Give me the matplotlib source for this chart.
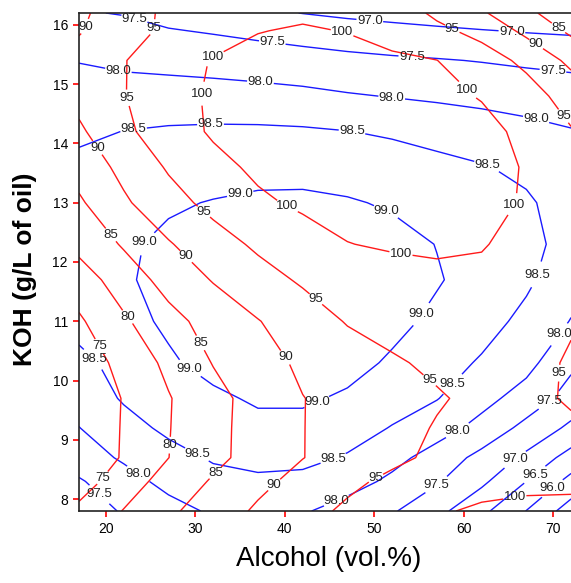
import matplotlib
matplotlib.use('Agg')
import matplotlib.pyplot as plt
import numpy as np

plt.rcParams['font.family'] = ['Liberation Sans', 'DejaVu Sans']

# grid: alcohol (vol.%) columns, KOH (g/L) rows
alcohol = [17, 22, 27, 32, 37, 42, 47, 52, 57, 62, 67, 72]
koh = [7.8, 8.3, 8.7, 9.2, 9.7, 10.3, 11.0, 11.7, 12.3, 13.0, 13.6, 14.2, 14.8, 15.4, 15.9, 16.2]

# red contours (yield %), one row per koh value
yield_pct = [
    [76.1, 80.2, 84.1, 87.5, 90.7, 93.4, 95.8, 97.6, 99.4, 100.8, 101.5, 101.8],
    [72.7, 77.6, 81.9, 85.5, 88.8, 91.5, 94.0, 96.0, 97.0, 98.1, 98.6, 98.6],
    [70.9, 75.5, 79.95, 83.7, 87.0, 89.9, 92.0, 94.0, 95.9, 97.0, 97.6, 97.5],
    [70.8, 75.4, 79.8, 83.6, 87.0, 89.9, 91.8, 93.5, 95.3, 96.8, 97.2, 96.0],
    [70.5, 75.3, 79.7, 83.5, 86.9, 89.9, 91.5, 93.0, 94.6, 96.0, 96.6, 94.3],
    [71.9, 76.6, 81.1, 85.2, 88.2, 90.8, 92.7, 94.5, 95.8, 96.7, 96.8, 94.4],
    [74.3, 79.3, 83.5, 86.8, 89.8, 92.6, 95.3, 96.5, 97.5, 98.0, 97.9, 95.5],
    [77.6, 82.4, 86.7, 90.3, 93.2, 95.6, 97.2, 98.3, 99.0, 99.3, 99.0, 97.5],
    [81.4, 85.5, 89.6, 93.0, 95.8, 97.9, 99.9, 100.5, 100.7, 100.2, 99.0, 97.5],
    [84.3, 89.3, 93.2, 96.4, 99.2, 100.8, 101.5, 101.8, 101.8, 101.3, 99.6, 97.8],
    [86.9, 91.3, 95.5, 98.6, 100.9, 101.8, 102.2, 102.3, 102.1, 101.5, 99.7, 97.8],
    [89.2, 94.0, 97.6, 100.6, 101.6, 102.1, 102.3, 102.2, 101.9, 101.0, 99.2, 95.3],
    [91.5, 94.8, 98.1, 100.7, 101.5, 101.8, 101.8, 101.5, 100.9, 99.8, 96.8, 93.2],
    [92.0, 94.8, 97.6, 100.3, 100.9, 101.1, 101.0, 100.7, 100.05, 97.0, 94.0, 88.8],
    [89.6, 93.2, 95.9, 97.6, 99.9, 100.3, 99.9, 98.5, 96.0, 93.7, 88.8, 84.1],
    [89.1, 92.6, 96.0, 97.5, 98.9, 99.5, 99.0, 97.4, 94.2, 90.6, 86.2, 81.5],
]

# blue contours (ester content %), one row per koh value
ester_pct = [
    [97.1, 97.57, 97.82, 98.07, 98.25, 98.05, 97.8, 97.55, 97.14, 96.62, 95.99, 95.26],
    [97.45, 97.8, 98.15, 98.35, 98.38, 98.35, 98.2, 97.9, 97.55, 97.1, 96.5, 95.85],
    [97.75, 98.07, 98.33, 98.55, 98.7, 98.65, 98.45, 98.15, 97.8, 97.35, 96.9, 96.3],
    [97.99, 98.32, 98.6, 98.75, 98.9, 98.9, 98.75, 98.47, 98.2, 97.85, 97.35, 96.9],
    [98.19, 98.55, 98.75, 98.93, 99.05, 99.05, 98.95, 98.75, 98.52, 98.15, 97.8, 97.3],
    [98.35, 98.7, 98.95, 99.12, 99.22, 99.22, 99.12, 98.95, 98.7, 98.45, 98.15, 97.6],
    [98.7, 98.88, 99.06, 99.22, 99.3, 99.3, 99.22, 99.1, 98.92, 98.68, 98.38, 97.98],
    [98.85, 98.96, 99.1, 99.25, 99.33, 99.33, 99.27, 99.17, 99.03, 98.85, 98.58, 98.2],
    [98.82, 98.94, 99.08, 99.22, 99.3, 99.3, 99.24, 99.14, 98.99, 98.82, 98.62, 98.35],
    [98.75, 98.85, 98.95, 99.02, 99.08, 99.09, 99.04, 98.95, 98.85, 98.73, 98.56, 98.3],
    [98.65, 98.72, 98.78, 98.82, 98.85, 98.85, 98.8, 98.72, 98.62, 98.53, 98.4, 98.2],
    [98.38, 98.51, 98.56, 98.58, 98.58, 98.56, 98.51, 98.44, 98.35, 98.25, 98.14, 98.03],
    [98.12, 98.17, 98.2, 98.2, 98.17, 98.12, 98.04, 97.98, 97.92, 97.86, 97.8, 97.73],
    [97.99, 97.92, 97.86, 97.8, 97.74, 97.68, 97.62, 97.57, 97.53, 97.48, 97.42, 97.38],
    [97.72, 97.62, 97.53, 97.46, 97.38, 97.3, 97.22, 97.15, 97.08, 97.02, 96.97, 96.93],
    [97.53, 97.48, 97.33, 97.22, 97.1, 96.99, 96.9, 96.83, 96.77, 96.72, 96.68, 96.65],
]

yield_levels = [75, 80, 85, 90, 95, 100]
ester_levels = [95.5, 96.0, 96.5, 97.0, 97.5, 98.0, 98.5, 99.0]

# where the labels sit in the reference (data coords)
yield_label_pos = [
    (17.7, 15.97), (24.4, 15.97), (31.7, 15.53), (22.4, 14.77), (29.8, 14.87),
    (19.0, 13.92), (40.0, 12.85), (20.5, 12.45), (30.8, 12.82), (28.7, 12.05),
    (22.4, 11.07), (30.5, 10.63), (19.4, 10.59), (39.6, 10.34), (43.2, 11.32),
    (52.9, 12.05), (66.0, 12.93), (46.5, 15.93), (60.7, 14.95), (58.7, 15.93),
    (68.2, 15.70), (70.5, 15.93), (71.3, 14.48), (56.0, 9.97), (71.1, 10.12),
    (27.2, 8.91), (32.2, 8.45), (38.7, 8.26), (19.7, 8.35), (50.1, 8.38),
    (65.7, 8.04),
]
ester_label_pos = [
    (23.1, 16.05), (21.5, 15.31), (38.6, 15.70), (37.3, 15.07), (23.1, 14.23),
    (31.7, 14.31), (49.5, 16.07), (54.2, 15.46), (52.0, 14.85), (47.5, 14.18),
    (65.4, 15.92), (70.0, 15.27), (68.2, 14.48), (62.7, 13.67), (35.0, 13.16),
    (24.4, 12.32), (51.4, 12.88), (68.3, 11.78), (55.7, 11.07), (29.1, 10.14),
    (18.2, 10.29), (43.6, 9.63), (58.7, 9.95), (70.5, 10.80), (69.3, 9.72),
    (30.0, 8.70), (45.4, 8.69), (59.4, 9.13), (23.3, 8.35), (19.0, 8.03),
    (45.8, 7.96), (57.0, 8.23), (66.0, 8.62), (68.0, 8.40), (69.9, 8.18),
]

fig = plt.figure(figsize=(5.71, 5.83), dpi=100)
ax = fig.add_axes([79 / 571, 72 / 583, 510 / 571, 498 / 583])

cs_blue = ax.contour(alcohol, koh, np.array(ester_pct), levels=ester_levels,
                     colors='#1a1aff', linewidths=1.0)
cs_red = ax.contour(alcohol, koh, np.array(yield_pct), levels=yield_levels,
                    colors='#ff1a1a', linewidths=1.0)

lab_blue = ax.clabel(cs_blue, fmt='%.1f', fontsize=9.5, colors='#222222',
                     inline=True, inline_spacing=1, manual=ester_label_pos)
lab_red = ax.clabel(cs_red, fmt='%d', fontsize=9.5, colors='#222222',
                    inline=True, inline_spacing=1, manual=yield_label_pos)
for t in list(lab_blue) + list(lab_red):
    t.set_rotation(0)

ax.set_xlim(17, 74)
ax.set_ylim(7.8, 16.2)
ax.set_xticks([20, 30, 40, 50, 60, 70])
ax.set_yticks([8, 9, 10, 11, 12, 13, 14, 15, 16])
ax.tick_params(color='red', length=4, width=1.2, labelsize=10, pad=4)
for side in ['left', 'bottom', 'top']:
    ax.spines[side].set_linewidth(1.2)
    ax.spines[side].set_color('#222222')
ax.spines['right'].set_visible(False)

ax.set_xlabel('Alcohol (vol.%)', fontsize=20, va='center')
ax.xaxis.set_label_coords((329 - 79) / 510, (511 - 559) / 498)
ax.set_ylabel('KOH (g/L of oil)', fontsize=19, fontweight='bold', va='center')
ax.yaxis.set_label_coords((25 - 79) / 510, (511 - 269) / 498)

fig.savefig('out.png', dpi=100)
